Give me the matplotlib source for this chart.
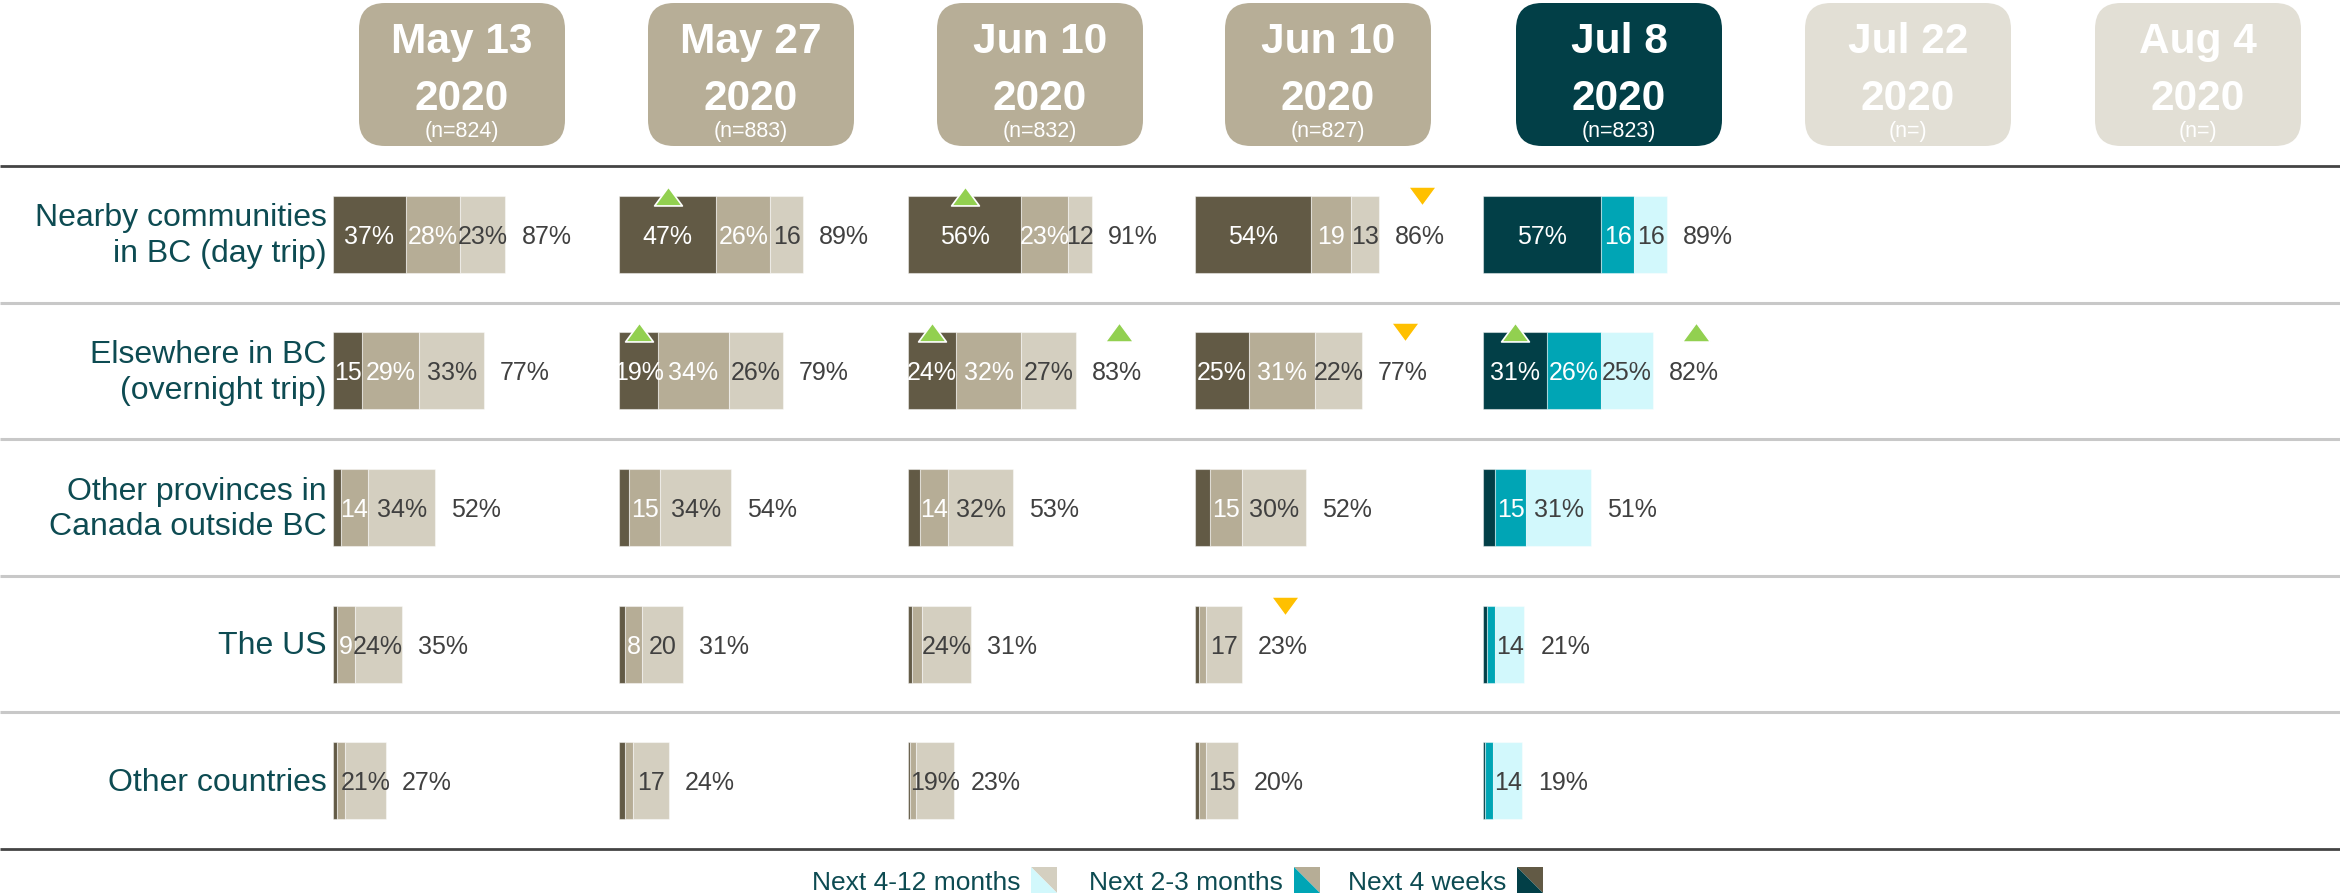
import matplotlib
matplotlib.use("Agg")
import matplotlib.pyplot as plt
import numpy as np
from matplotlib.patches import FancyBboxPatch, Polygon
from matplotlib.path import Path
from matplotlib.transforms import ScaledTranslation

plt.rcParams['font.family'] = ['Liberation Sans', 'DejaVu Sans']

# ---------------- data ----------------
destinations = ["Nearby communities\nin BC (day trip)",
                "Elsewhere in BC\n(overnight trip)",
                "Other provinces in\nCanada outside BC",
                "The US",
                "Other countries"]
wave_dates = ["May 13", "May 27", "Jun 10", "Jun 10", "Jul 8", "Jul 22", "Aug 4"]
wave_years = ["2020", "2020", "2020", "2020", "2020", "2020", "2020"]
wave_n = ["824", "883", "832", "827", "823", "", ""]
wave_state = ["past", "past", "past", "past", "current", "future", "future"]
series_names = ["Next 4 weeks", "Next 2-3 months", "Next 4-12 months"]

# rows = destinations, columns = waves with data
next_4_weeks = [[37, 47, 56, 54, 57],
                [15, 19, 24, 25, 31],
                [4, 5, 6, 7, 6],
                [2, 3, 2, 2, 2],
                [2, 3, 1, 2, 1]]
next_2_3_months = [[28, 26, 23, 19, 16],
                   [29, 34, 32, 31, 26],
                   [14, 15, 14, 15, 15],
                   [9, 8, 5, 3, 4],
                   [4, 4, 3, 3, 4]]
next_4_12_months = [[23, 16, 12, 13, 16],
                    [33, 26, 27, 22, 25],
                    [34, 34, 32, 30, 31],
                    [24, 20, 24, 17, 14],
                    [21, 17, 19, 15, 14]]
total_any = [[87, 89, 91, 86, 89],
             [77, 79, 83, 77, 82],
             [52, 54, 53, 52, 51],
             [35, 31, 31, 23, 21],
             [27, 24, 23, 20, 19]]
# significant change vs previous wave (+1 up, -1 down)
sig_4_weeks = [[0, 1, 1, 0, 0],
               [0, 1, 1, 0, 1],
               [0, 0, 0, 0, 0],
               [0, 0, 0, 0, 0],
               [0, 0, 0, 0, 0]]
sig_total = [[0, 0, 0, -1, 0],
             [0, 0, 1, -1, 1],
             [0, 0, 0, 0, 0],
             [0, 0, 0, -1, 0],
             [0, 0, 0, 0, 0]]
# segment label format: p = "NN%", n = "NN", - = hidden
fmt_4_weeks = ["ppppp", "npppp", "-----", "-----", "-----"]
fmt_2_3_months = ["pppnn", "ppppp", "nnnnn", "nn---", "-----"]
fmt_4_12_months = ["pnnnn", "ppppp", "ppppp", "pnpnn", "pnpnn"]

# ---------------- styling / layout ----------------
W, H = 2340, 896
DPI = 100
old_cols = ["#625a45", "#b6ad96", "#d4cfc0"]
new_cols = ["#023f47", "#00a5b5", "#d2f8fc"]
box_cols = {"past": "#b7ae97", "current": "#023f47", "future": "#e2dfd5"}
label_col = "#0d4b52"
num_col = "#404040"
seg_text_cols = ["white", "white", num_col]
up_col, down_col = "#92d050", "#ffc000"

band_top, band_bot = 166, 849
bar_left_px = [333, 619, 908, 1195, 1483]
px_per_pct = [1.96, 2.07, 2.02, 2.14, 2.07]
header_cx = [462, 751, 1040, 1328, 1619, 1908, 2198]
box_w, box_top, box_h = 206, 3, 143
bar_h = 0.565

fig = plt.figure(figsize=(W / DPI, H / DPI), dpi=DPI)
bg = fig.add_axes([0, 0, 1, 1])
bg.set_xlim(0, W)
bg.set_ylim(H, 0)
bg.axis("off")

n_rows = len(destinations)
band_h = (band_bot - band_top) / n_rows

# horizontal rules
for i in range(1, n_rows):
    yy = band_top + i * band_h
    bg.plot([0, W], [yy, yy], color="#c8c8c8", lw=2.2, solid_capstyle="butt")
bg.plot([0, W], [band_top, band_top], color="#444444", lw=2.0, solid_capstyle="butt")
bg.plot([0, W], [band_bot, band_bot], color="#444444", lw=2.0, solid_capstyle="butt")

# header boxes
for k, cx in enumerate(header_cx):
    box = FancyBboxPatch((cx - box_w / 2, box_top), box_w, box_h,
                         boxstyle="round,pad=0,rounding_size=26",
                         fc=box_cols[wave_state[k]], ec="none")
    bg.add_patch(box)
    bg.text(cx, 53, wave_dates[k], ha="center", va="baseline", color="white",
            fontsize=30.5, fontweight="bold")
    bg.text(cx, 110, wave_years[k], ha="center", va="baseline", color="white",
            fontsize=30.5, fontweight="bold")
    bg.text(cx, 137, f"(n={wave_n[k]})", ha="center", va="baseline", color="white",
            fontsize=15.5)

# row labels
for i, name in enumerate(destinations):
    bg.text(327, band_top + (i + 0.5) * band_h + 2, name, ha="right", va="center",
            color=label_col, fontsize=23, linespacing=1.25)

# legend (reverse order)
leg_text_right = [1020, 1283, 1506]
sw = 26
leg_y = 880
for k, s in enumerate([2, 1, 0]):
    xr = leg_text_right[k]
    bg.text(xr, leg_y, series_names[s], ha="right", va="center_baseline",
            color=label_col, fontsize=19)
    x0 = xr + 11
    y0 = leg_y - sw / 2
    bg.add_patch(Polygon([(x0, y0), (x0 + sw, y0), (x0 + sw, y0 + sw)],
                         closed=True, fc=old_cols[s], ec="none"))
    bg.add_patch(Polygon([(x0, y0), (x0, y0 + sw), (x0 + sw, y0 + sw)],
                         closed=True, fc=new_cols[s], ec="none"))

# triangle marker (wider than tall)
tri_up = Path([(-1, -0.68), (1, -0.68), (0, 0.68), (-1, -0.68)],
              [Path.MOVETO, Path.LINETO, Path.LINETO, Path.CLOSEPOLY])
tri_dn = Path([(-1, 0.68), (1, 0.68), (0, -0.68), (-1, 0.68)],
              [Path.MOVETO, Path.LINETO, Path.LINETO, Path.CLOSEPOLY])

series = [next_4_weeks, next_2_3_months, next_4_12_months]
fmts = [fmt_4_weeks, fmt_2_3_months, fmt_4_12_months]
n_cols = len(next_4_weeks[0])
ax_w_px = 300
y = np.arange(n_rows)

for j in range(n_cols):
    ax = fig.add_axes([bar_left_px[j] / W, 1 - band_bot / H,
                       ax_w_px / W, (band_bot - band_top) / H])
    ax.set_xlim(0, ax_w_px / px_per_pct[j])
    ax.set_ylim(n_rows - 0.5, -0.5)
    ax.axis("off")
    cols = new_cols if wave_state[j] == "current" else old_cols
    lefts = np.zeros(n_rows)
    for s, data in enumerate(series):
        widths = np.array([data[r][j] for r in range(n_rows)], dtype=float)
        ax.barh(y, widths, left=lefts, height=bar_h, color=cols[s],
                edgecolor=(1, 1, 1, 0.45), linewidth=0.8)
        for r in range(n_rows):
            f = fmts[s][r][j]
            if f == "-":
                continue
            txt = f"{data[r][j]}%" if f == "p" else f"{data[r][j]}"
            ax.text(lefts[r] + widths[r] / 2, r, txt, ha="center",
                    va="center_baseline", color=seg_text_cols[s], fontsize=18,
                    clip_on=False)
        lefts = lefts + widths
    # totals and significance markers
    for r in range(n_rows):
        ax.annotate(f"{total_any[r][j]}%", xy=(lefts[r], r), xytext=(11.5, 0),
                    textcoords="offset points", ha="left", va="center_baseline",
                    color=num_col, fontsize=18, annotation_clip=False)
        sg = sig_4_weeks[r][j]
        if sg:
            ax.plot([next_4_weeks[r][j] / 2], [r - bar_h / 2],
                    marker=tri_up if sg > 0 else tri_dn, ms=20,
                    color=up_col if sg > 0 else down_col,
                    mec="white", mew=1.2, clip_on=False, zorder=5)
        st = sig_total[r][j]
        if st:
            tr = ax.transData + ScaledTranslation(43 / DPI, 0, fig.dpi_scale_trans)
            ax.plot([lefts[r]], [r - bar_h / 2], transform=tr,
                    marker=tri_up if st > 0 else tri_dn, ms=20,
                    color=up_col if st > 0 else down_col,
                    mec="white", mew=1.0, clip_on=False, zorder=5)

fig.savefig("out.png", dpi=DPI)
